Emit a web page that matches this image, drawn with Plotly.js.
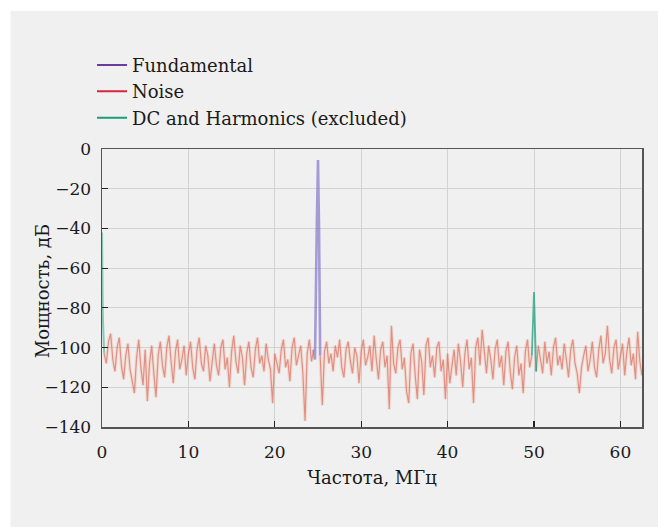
<!DOCTYPE html>
<html>
<head>
<meta charset="utf-8">
<script src="https://cdn.plot.ly/plotly-3.0.1.min.js"></script>
<style>html,body{margin:0;padding:0;background:#fff;}#chart{width:658px;height:527px;}</style>
</head>
<body>
<div id="chart"></div>
<script>
// Frequency grid of the noise bins (MHz)
var noiseStart = 0.25;
var noiseStep = 0.25;
// Noise power, dB (one value per bin, 0.25 … 62.5 MHz; null = excluded bin)
var noiseDb = [
  -103,-108,-97,-93,-106,-112,-100,-95,-109,-116,-104,-98,-111,-118,-123,-105,-96,-110,-119,-101,
  -127,-108,-99,-113,-125,-104,-97,-109,-115,-100,-94,-107,-118,-102,-96,-111,-106,-99,-114,-103,
  -97,-110,-116,-101,-95,-108,-112,-99,-104,-117,-106,-98,-109,-114,-100,-96,-111,-105,-120,-102,
  -94,-107,-113,-99,-105,-119,-103,-97,-110,-115,-101,-95,-108,-104,-112,-98,-106,-111,-128,-103,
  -108,-113,-101,-96,-110,-106,-117,-100,-95,-109,-104,-99,-113,-137,-103,-96,-107,-101,null,null,
  -104,-129,-102,-97,-108,-103,-112,-99,-105,-96,-110,-115,-101,-97,-107,-113,-100,-104,-118,-102,
  -96,-109,-105,-99,-112,-94,-106,-116,-101,-97,-110,-104,-131,-89,-108,-113,-100,-96,-111,-105,
  -122,-128,-103,-98,-114,-126,-101,-107,-124,-99,-95,-110,-104,-115,-100,-97,-112,-106,-126,-103,
  -118,-109,-101,-114,-98,-107,-120,-103,-96,-111,-105,-128,-100,-95,-109,-91,-104,-113,-99,-106,
  -116,-101,-96,-110,-104,-119,-102,-97,-112,-121,-105,-99,-114,-108,-123,-102,-96,-110,-104,null,
  -112,-99,-106,-113,-97,-108,-102,-114,-100,-95,-109,-104,-111,-98,-106,-115,-101,-96,-108,-113,
  -123,-110,-104,-99,-112,-106,-97,-110,-115,-101,-94,-108,-103,-89,-106,-113,-100,-96,-111,-105,
  -98,-114,-102,-95,-109,-103,-116,-92,-107,-114
];
// Fundamental tone
var fundFreq = [24.5, 24.65, 24.85, 25.0, 25.12, 25.25];
var fundDb   = [-101, -106, -42, -5.5, -40, -104];
// DC and harmonics (excluded bins)
var dcFreq = [0, 0.1, 0.25];
var dcDb   = [-42, -85, -103];
var harmFreq = [49.75, 50.0, 50.25];
var harmDb   = [-104, -72, -112];

var xTicks = [0, 10, 20, 30, 40, 50, 60];
var yTicks = [0, -20, -40, -60, -80, -100, -120, -140];
var legendNames = ['Fundamental', 'Noise', 'DC and Harmonics (excluded)'];
var xTitle = 'Частота, МГц';
var yTitle = 'Мощность, дБ';

var noiseFreq = noiseDb.map(function (_, i) { return +(noiseStart + i * noiseStep).toFixed(2); });

var FONT = '"DejaVu Serif", serif';
var traces = [
  // soft underlay (gives the blurred band look)
  {x: noiseFreq, y: noiseDb, mode: 'lines', showlegend: false, hoverinfo: 'skip',
   line: {color: 'rgba(240,150,110,0.22)', width: 3.5}},
  {x: noiseFreq, y: noiseDb, mode: 'lines', showlegend: false, hoverinfo: 'skip',
   line: {color: 'rgba(215,80,70,0.55)', width: 1.2}},
  {x: dcFreq, y: dcDb, mode: 'lines', showlegend: false,
   line: {color: 'rgba(30,160,125,0.5)', width: 2}},
  {x: harmFreq, y: harmDb, mode: 'lines', showlegend: false,
   line: {color: 'rgba(30,160,125,0.75)', width: 1.8}},
  {x: fundFreq, y: fundDb, mode: 'lines', showlegend: false,
   line: {color: 'rgba(140,125,205,0.75)', width: 2.6}},
  // legend entries
  {x: [null], y: [null], mode: 'lines', name: legendNames[0], line: {color: '#6a3d9a', width: 2}},
  {x: [null], y: [null], mode: 'lines', name: legendNames[1], line: {color: '#d7263d', width: 2}},
  {x: [null], y: [null], mode: 'lines', name: legendNames[2], line: {color: '#1b9e77', width: 2}}
];

var layout = {
  width: 658, height: 527,
  margin: {l: 102, r: 16, t: 149, b: 100, pad: 0},
  paper_bgcolor: '#f0f0f0',
  plot_bgcolor: '#f0f0f0',
  font: {family: FONT, size: 17, color: '#1a1a1a'},
  showlegend: true,
  legend: {x: -0.0185, xanchor: 'left', y: 1.368, yanchor: 'top', bgcolor: 'rgba(0,0,0,0)',
           font: {family: FONT, size: 18, color: '#1a1a1a'}, tracegroupgap: 0, itemwidth: 30},
  xaxis: {
    range: [0, 62.5], tickvals: xTicks, ticks: 'inside', ticklen: 6, tickwidth: 1.2, tickcolor: '#222',
    showline: true, linecolor: '#555', linewidth: 1.5, mirror: true,
    showgrid: true, gridcolor: '#d2d2d2', gridwidth: 1, zeroline: false,
    tickfont: {family: FONT, size: 17, color: '#1a1a1a'}, ticklabelstandoff: 9,
    title: {text: xTitle, font: {family: FONT, size: 18, color: '#1a1a1a'}, standoff: 10}
  },
  yaxis: {
    range: [-140, 0], tickvals: yTicks, ticks: 'inside', ticklen: 6, tickwidth: 1.2, tickcolor: '#222',
    showline: true, linecolor: '#555', linewidth: 1.5, mirror: true,
    showgrid: true, gridcolor: '#d2d2d2', gridwidth: 1, zeroline: false,
    tickfont: {family: FONT, size: 17, color: '#1a1a1a'}, ticklabelstandoff: 6
  },
  annotations: [
    {text: yTitle, xref: 'paper', yref: 'paper', x: -0.1102, y: 0.49, xanchor: 'center', yanchor: 'middle',
     textangle: -90, showarrow: false, font: {family: FONT, size: 18, color: '#1a1a1a'}}
  ],
  shapes: [
    {type: 'rect', xref: 'paper', yref: 'paper', x0: -0.2, x1: -0.1694, y0: -0.4, y1: 1.6,
     fillcolor: '#ffffff', line: {width: 0}, layer: 'below'},
    {type: 'rect', xref: 'paper', yref: 'paper', x0: -0.2, x1: 1.1, y0: 1.496, y1: 1.6,
     fillcolor: '#ffffff', line: {width: 0}, layer: 'below'}
  ]
};

Plotly.newPlot('chart', traces, layout, {displayModeBar: false, staticPlot: true});
</script>
</body>
</html>
